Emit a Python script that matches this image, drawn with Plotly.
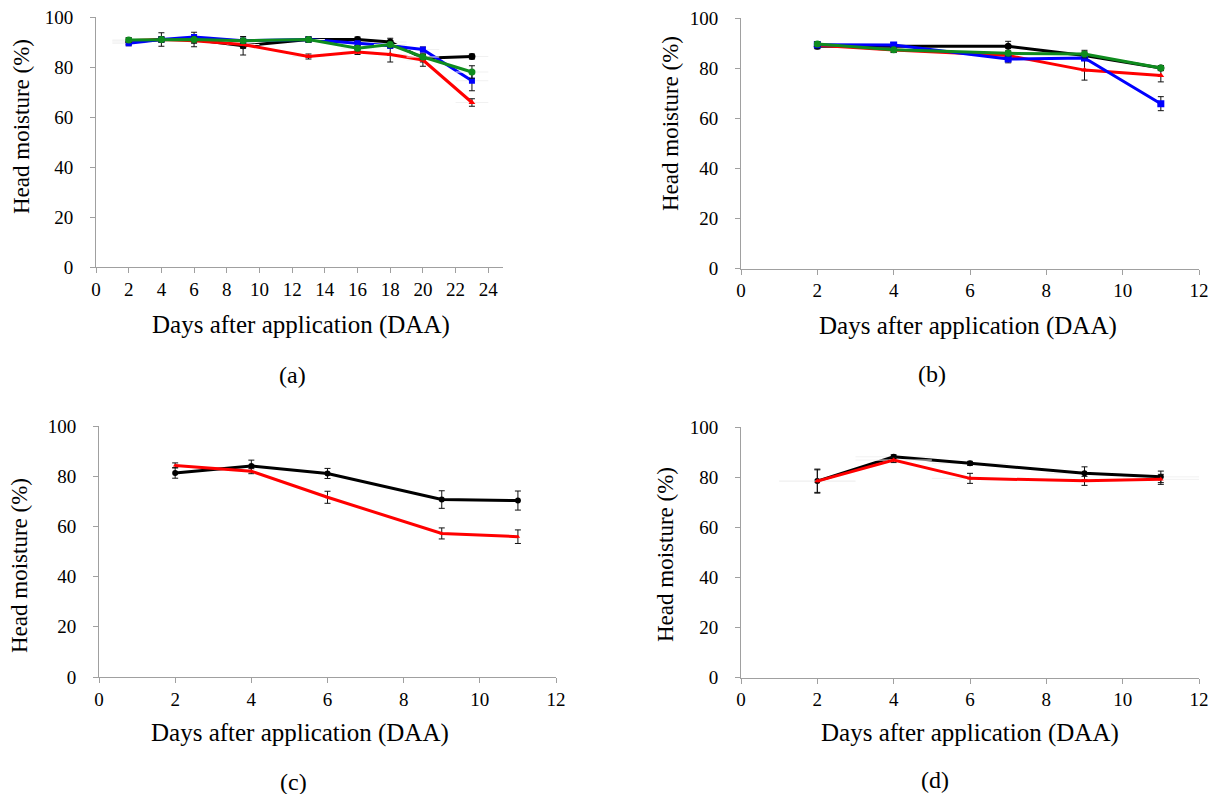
import plotly.graph_objects as go

# ---------------- data ----------------
days_a = [2, 4, 6, 9, 13, 16, 18, 20, 23]
black_a = [90, 91, 91, 88.5, 91, 91, 90, 83.5, 84.2]
red_a = [90.5, 91, 90.5, 89, 84.2, 86, 85, 82.8, 65.8]
blue_a = [89.5, 91, 92, 90.5, 91, 89.5, 88.5, 87, 74.5]
green_a = [90.8, 91, 91, 90.5, 91, 87.5, 89, 84, 78]
black_a_err = [1, 2.7, 2.9, 3.7, 1, 1, 1.5, 1.5, 1]
red_a_err = [1, 1, 1, 1.5, 1, 1, 3, 2.5, 1.5]
blue_a_err = [1, 1, 1, 1, 1, 1, 1, 1, 4]
green_a_err = [1, 1, 1, 1, 1, 1, 1, 1, 2.5]

days_b = [2, 4, 7, 9, 11]
black_b = [88.7, 88.6, 88.7, 85, 80]
red_b = [89.1, 87.2, 85, 79.2, 77]
blue_b = [89.3, 89.2, 83.6, 84, 65.8]
green_b = [89.6, 87.3, 85.9, 85.6, 80]
black_b_err = [1, 1.5, 2, 1.5, 1]
red_b_err = [1, 1, 1, 4, 2.5]
blue_b_err = [1, 1, 1.5, 1, 2.8]
green_b_err = [1, 1, 1, 1.5, 1]

days_c = [2, 4, 6, 9, 11]
black_c = [81.3, 84.1, 81.1, 70.7, 70.3]
red_c = [84.3, 82, 71.6, 57.2, 55.9]
black_c_err = [2.1, 2.3, 2, 3.5, 3.8]
red_c_err = [1, 1, 2.4, 2.2, 2.7]

days_d = [2, 4, 6, 9, 11]
black_d = [78.4, 88.1, 85.5, 81.5, 80.1]
red_d = [78.4, 86.8, 79.5, 78.5, 79.1]
black_d_err = [4.8, 0.8, 0.8, 2.6, 2.3]
red_d_err = [4.5, 1, 2, 1.8, 2]

x_title = "Days after application (DAA)"
y_title = "Head moisture (%)"
captions = ["(a)", "(b)", "(c)", "(d)"]

# ---------------- styles ----------------
BLACK = "#000000"
RED = "#ff0000"
BLUE = "#0000ff"
GREEN = "#0f8c1e"
FONT = "Liberation Serif"
W, H = 1217, 794

fig = go.Figure()


def add(x, y, err, color, symbol, ax, xerr=False, msize=6):
    kw = {}
    if xerr:
        kw["error_x"] = dict(type="constant", value=1, color="#f1f1f1", thickness=1, width=0)
    fig.add_trace(go.Scatter(
        x=x, y=y, mode="lines+markers",
        line=dict(color=color, width=3),
        marker=dict(color=color, symbol=symbol, size=msize),
        error_y=dict(type="data", array=err, visible=True, color="#111111", thickness=1, width=3),
        xaxis="x" + ax, yaxis="y" + ax, showlegend=False, **kw))


add(days_a, black_a, black_a_err, BLACK, "circle", "", True, msize=7)
add(days_a, red_a, red_a_err, RED, "triangle-up", "", True)
add(days_a, blue_a, blue_a_err, BLUE, "square", "", True)
add(days_a, green_a, green_a_err, GREEN, "circle", "", True, msize=7)

add(days_b, black_b, black_b_err, BLACK, "circle", "2", msize=7)
add(days_b, red_b, red_b_err, RED, "triangle-up", "2")
add(days_b, blue_b, blue_b_err, BLUE, "square", "2", msize=7)
add(days_b, green_b, green_b_err, GREEN, "circle", "2", msize=7)

add(days_c, black_c, black_c_err, BLACK, "circle", "3", msize=6)
add(days_c, red_c, red_c_err, RED, "triangle-up", "3", msize=4)

add(days_d, black_d, black_d_err, BLACK, "circle", "4", True)
add(days_d, red_d, red_d_err, RED, "triangle-up", "4", True, msize=5)


def px_x(v):
    return v / W


def px_y(v):
    return 1 - v / H


AXC = "#a0a0a0"


def xaxis(left, right, rng, dtick, anchor):
    return dict(domain=[px_x(left), px_x(right)], range=rng, dtick=dtick, tick0=0,
                showline=True, linecolor=AXC, linewidth=1, ticks="outside", ticklen=5,
                tickcolor=AXC, showgrid=False, zeroline=False, anchor=anchor, automargin=False,
                tickfont=dict(family=FONT, size=19, color="black"), ticklabelstandoff=0)


def yaxis(top, bottom, anchor):
    return dict(domain=[px_y(bottom), px_y(top)], range=[0, 100], dtick=20, tick0=0,
                showline=True, linecolor=AXC, linewidth=1, ticks="outside", ticklen=5,
                tickcolor=AXC, showgrid=False, zeroline=False, anchor=anchor, automargin=False,
                tickfont=dict(family=FONT, size=19, color="black"), ticklabelstandoff=13)


fig.update_layout(
    width=W, height=H, margin=dict(l=0, r=0, t=0, b=0, autoexpand=False),
    plot_bgcolor="white", paper_bgcolor="white",
    xaxis=xaxis(96, 503, [0, 24.9], 2, "y"),
    yaxis=yaxis(17, 267, "x"),
    xaxis2=xaxis(741, 1199, [0, 12], 2, "y2"),
    yaxis2=yaxis(18, 268.5, "x2"),
    xaxis3=xaxis(99, 556, [0, 12], 2, "y3"),
    yaxis3=yaxis(426, 677, "x3"),
    xaxis4=xaxis(741, 1199, [0, 12], 2, "y4"),
    yaxis4=yaxis(427, 677.5, "x4"),
)

ann = []
# x titles
for cx, cy in [(301, 325), (968, 326), (300, 733), (970, 733)]:
    ann.append(dict(x=px_x(cx), y=px_y(cy), xref="paper", yref="paper", text=x_title,
                    showarrow=False, xanchor="center", yanchor="middle",
                    font=dict(family=FONT, size=25, color="black")))
# y titles
for cx, cy in [(21, 127), (670, 124), (19, 566), (665, 555)]:
    ann.append(dict(x=px_x(cx), y=px_y(cy), xref="paper", yref="paper", text=y_title,
                    showarrow=False, xanchor="center", yanchor="middle", textangle=-90,
                    font=dict(family=FONT, size=23, color="black")))
# captions
for (cx, cy), t in zip([(292, 375), (932, 374), (293, 782), (935, 780)], captions):
    ann.append(dict(x=px_x(cx), y=px_y(cy), xref="paper", yref="paper", text=t,
                    showarrow=False, xanchor="center", yanchor="middle",
                    font=dict(family=FONT, size=24, color="black")))
fig.update_layout(annotations=ann)

post = ("document.body.style.margin='0px';document.body.style.padding='0px';"
        "document.body.style.overflow='hidden';"
        "document.documentElement.style.overflow='hidden';")
fig.write_html("out.html", post_script=post, config={"displayModeBar": False})
